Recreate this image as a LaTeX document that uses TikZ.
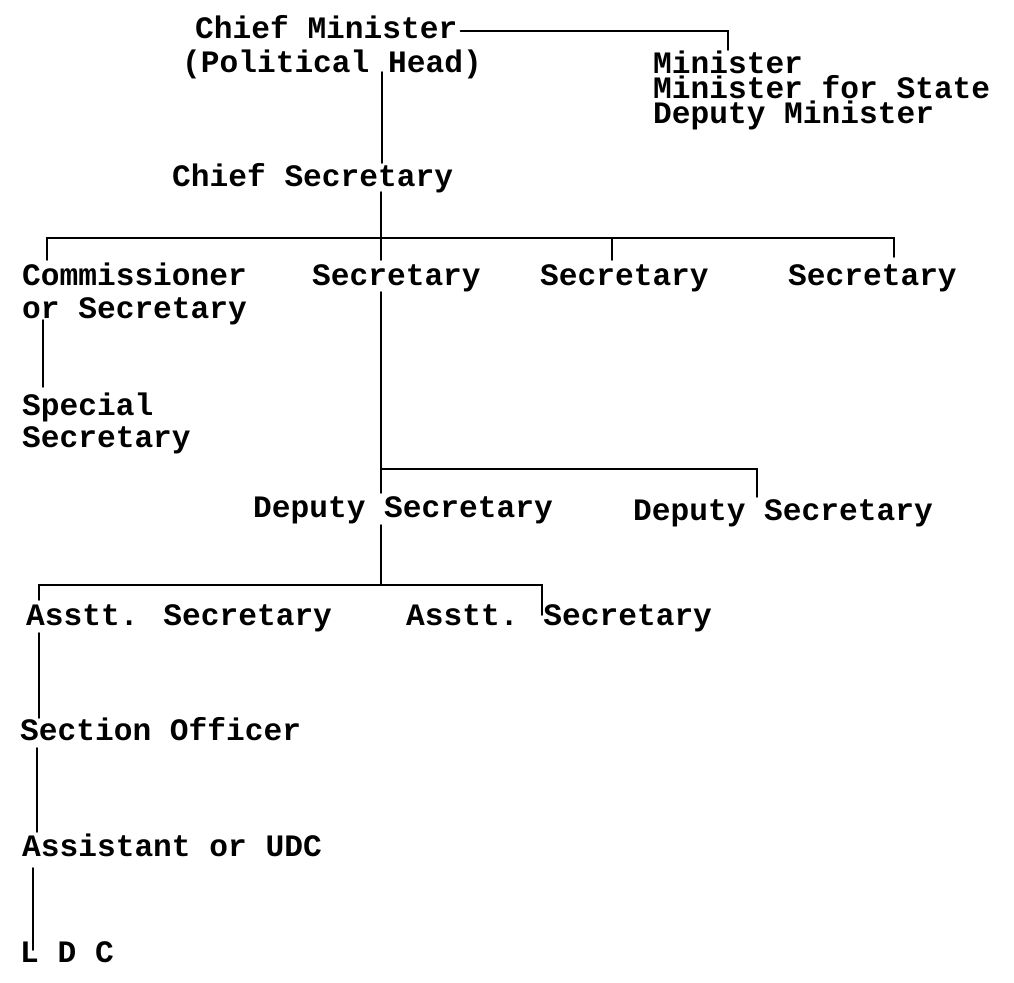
\documentclass[tikz,border=0pt]{standalone}
\usepackage{fontspec}
\newfontfamily\typewfam{Liberation Mono}
\newcommand{\twfont}{\typewfam\bfseries\fontsize{31.2pt}{34pt}\selectfont}
\newcommand{\twtight}{\typewfam\bfseries\fontsize{31.2pt}{25pt}\selectfont}
\begin{document}
\begin{tikzpicture}[x=1pt,y=-1pt,
  lbl/.style={anchor=base west,inner sep=0pt,font=\twfont},
  conn/.style={line width=1.8pt,line cap=round}]
\useasboundingbox (0,0) rectangle (1014,982);
\fill[white] (0,0) rectangle (1014,982);
% labels
\node[lbl] (cm)   at (195,39)  {Chief Minister};
\node[lbl] (ph)   at (182,73)  {(Political Head)};
\node[lbl,font=\twtight,align=left] (min) at (653,123)
  {Minister\\Minister for State\\Deputy Minister};
\node[lbl] (cs)   at (172,186) {Chief Secretary};
\node[lbl] (com1) at (22,285)  {Commissioner};
\node[lbl] (com2) at (22,318)  {or Secretary};
\node[lbl] (s2)   at (312,285) {Secretary};
\node[lbl] (s3)   at (540,285) {Secretary};
\node[lbl] (s4)   at (788,285) {Secretary};
\node[lbl] (sp1)  at (22,415)  {Special};
\node[lbl] (sp2)  at (22,447)  {Secretary};
\node[lbl] (ds1)  at (253,517) {Deputy Secretary};
\node[lbl] (ds2)  at (633,520) {Deputy Secretary};
\node[lbl] (as1)  at (26,625)  {Asstt. Secretary};
\node[lbl] (as2)  at (406,625) {Asstt. Secretary};
\node[lbl] (so)   at (20,740)  {Section Officer};
\node[lbl] (udc)  at (22,856)  {Assistant or UDC};
\node[lbl] (ldc)  at (20,962)  {L D C};
% junction coordinates
\coordinate (cmEnd) at (728,31);
\coordinate (mTick) at (728,50);
\coordinate (csTop) at (382,72);
\coordinate (csIn)  at (382,163);
\coordinate (csOut) at (381,192);
\coordinate (b1L)   at (47,238);
\coordinate (b1C)   at (612,238);
\coordinate (b1R)   at (894,238);
\coordinate (comT)  at (47,260);
\coordinate (s2T)   at (381,260);
\coordinate (s3T)   at (612,260);
\coordinate (s4T)   at (894,257);
\coordinate (comB)  at (43,320);
\coordinate (spT)   at (43,387);
\coordinate (s2B)   at (381,292);
\coordinate (b2L)   at (381,469);
\coordinate (b2R)   at (757,469);
\coordinate (ds1T)  at (381,493);
\coordinate (ds2T)  at (757,497);
\coordinate (ds1B)  at (381,525);
\coordinate (b3M)   at (381,585);
\coordinate (b3L)   at (39,585);
\coordinate (b3R)   at (542,585);
\coordinate (as1T)  at (39,600);
\coordinate (as2T)  at (542,615);
\coordinate (as1B)  at (39,633);
\coordinate (soT)   at (39,718);
\coordinate (soB)   at (37,748);
\coordinate (udcT)  at (37,832);
\coordinate (udcB)  at (33,868);
\coordinate (ldcT)  at (33,950);
% connectors
\draw[conn] ([xshift=3pt]cm.east |- cmEnd) -- (cmEnd) -- (mTick);
\draw[conn] (csTop) -- (csIn);
\draw[conn] (csOut) -- (s2T);
\draw[conn] (comT) -- (b1L) -- (b1R) -- (s4T);
\draw[conn] (b1C) -- (s3T);
\draw[conn] (comB) -- (spT);
\draw[conn] (s2B) -- (ds1T);
\draw[conn] (b2L) -- (b2R) -- (ds2T);
\draw[conn] (ds1B) -- (b3M);
\draw[conn] (as1T) -- (b3L) -- (b3R) -- (as2T);
\draw[conn] (as1B) -- (soT);
\draw[conn] (soB) -- (udcT);
\draw[conn] (udcB) -- (ldcT);
\end{tikzpicture}
\end{document}
